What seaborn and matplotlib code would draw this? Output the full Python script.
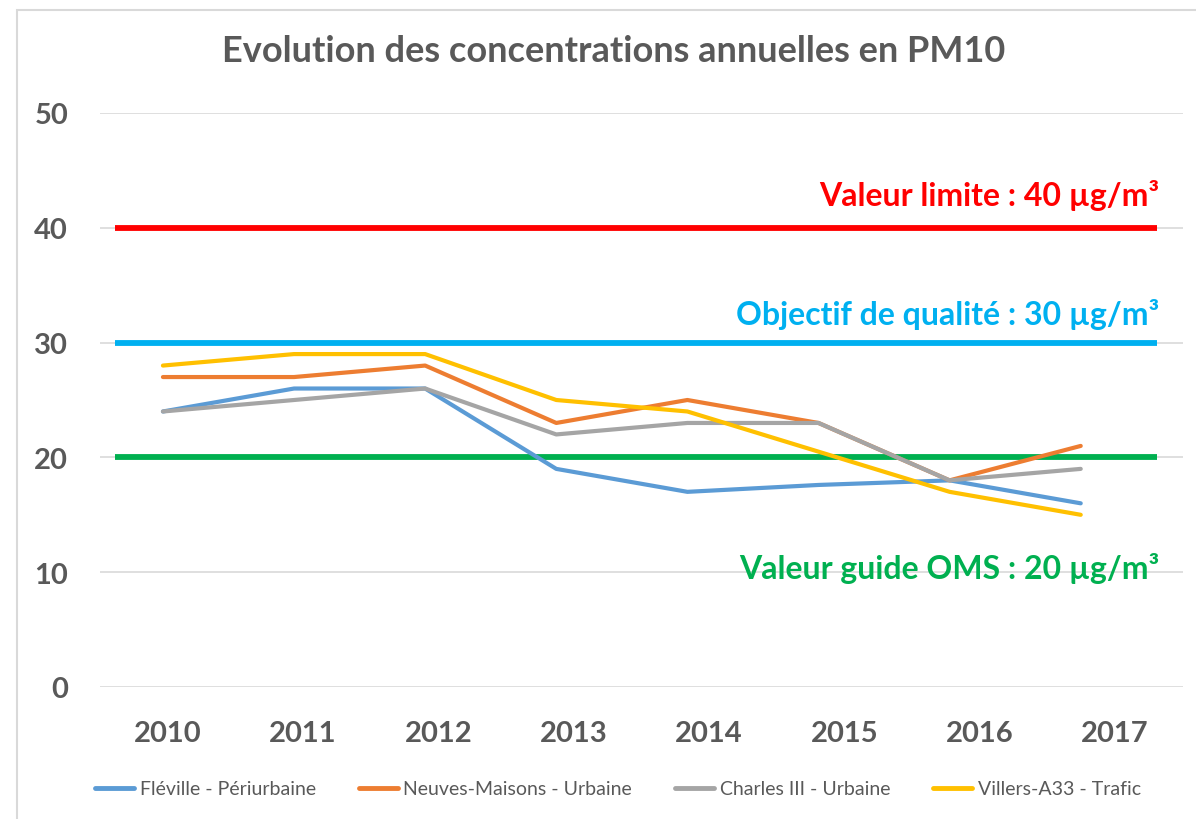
import numpy as np
import pandas as pd
import matplotlib
matplotlib.use("Agg")
import matplotlib.pyplot as plt
import seaborn as sns
from matplotlib.patches import Rectangle
from matplotlib.lines import Line2D

years = ["2010", "2011", "2012", "2013", "2014", "2015", "2016", "2017"]
fleville = [24, 26, 26, 19, 17, 17.6, 18, 16]
neuves = [27, 27, 28, 23, 25, 23, 18, 21]
charles = [24, 25, 26, 22, 23, 23, 18, 19]
villers = [28, 29, 29, 25, 24, 20.5, 17, 15]
series_names = ["Fléville - Périurbaine", "Neuves-Maisons - Urbaine",
                "Charles III - Urbaine", "Villers-A33 - Trafic"]
series_colors = ["#5B9BD5", "#ED7D31", "#A5A5A5", "#FFC000"]

ref_values = [40, 30, 20]
ref_colors = ["#FF0000", "#00B0F0", "#00B050"]
ref_labels = ["Valeur limite : 40 µg/m³", "Objectif de qualité : 30 µg/m³",
              "Valeur guide OMS : 20 µg/m³"]
ref_label_y = [42.9, 32.5, 10.45]

title = "Evolution des concentrations annuelles en PM10"
y_ticks = [0, 10, 20, 30, 40, 50]

sns.set_theme(style="white")
plt.rcParams['font.family'] = ['Lato', 'DejaVu Sans']

rows = []
for name, vals in zip(series_names, [fleville, neuves, charles, villers]):
    for i, v in enumerate(vals):
        rows.append({"idx": i, "value": v, "station": name})
df = pd.DataFrame(rows)

W, H = 1196, 820
fig = plt.figure(figsize=(W / 100, H / 100), dpi=100)
fig.patch.set_facecolor("white")
# frame
fig.patches.append(Rectangle((17 / W, -0.01), 1.02, 1 - 11 / H + 0.01,
                             transform=fig.transFigure, fill=False,
                             edgecolor="#D9D9D9", linewidth=1.5))

ax = fig.add_axes([100 / W, (H - 688) / H, (1183 - 100) / W, (688 - 114) / H])
ax.set_facecolor("none")

pal = dict(zip(series_names, series_colors))
sns.lineplot(data=df, x="idx", y="value", hue="station", palette=pal,
             hue_order=series_names, linewidth=3.0, ax=ax, legend=False,
             zorder=3)

for v, c in zip(ref_values, ref_colors):
    ax.plot([-0.366, 7.58], [v, v], color=c, linewidth=4.2, solid_capstyle="butt", zorder=2)
for lab, yy, c in zip(ref_labels, ref_label_y, ref_colors):
    ax.text(7.6, yy, lab, color=c, fontsize=23, fontweight="bold",
            ha="right", va="center")

ax.set_xlim(-0.48, 7.78)
ax.set_ylim(0, 50)
ax.set_yticks(y_ticks)
ax.set_yticklabels([str(t) for t in y_ticks])
ax.yaxis.grid(True, color="#D9D9D9", linewidth=1.2)
ax.set_axisbelow(True)
xt = [0.038 + k * 1.0317 for k in range(len(years))]
ax.set_xticks(xt)
ax.set_xticklabels(years)
ax.tick_params(axis="both", length=0, labelsize=21, labelcolor="#595959")
ax.tick_params(axis="y", pad=23)
ax.tick_params(axis="x", pad=24)
for lab in ax.get_xticklabels() + ax.get_yticklabels():
    lab.set_fontweight("bold")
for s in ax.spines.values():
    s.set_visible(False)
ax.set_xlabel("")
ax.set_ylabel("")

fig.text(614 / W, 1 - 52 / H, title, ha="center", va="center", fontsize=26,
         fontweight="bold", color="#595959")

handles = [Line2D([0], [0], color=c, linewidth=3.5) for c in series_colors]
fig.legend(handles, series_names, loc="center", bbox_to_anchor=(618 / W, 1 - 790 / H),
           ncol=4, frameon=False, fontsize=14, handlelength=2.0,
           handletextpad=0.3, columnspacing=2.2, labelcolor="#595959")

fig.savefig("out.png", dpi=100)
